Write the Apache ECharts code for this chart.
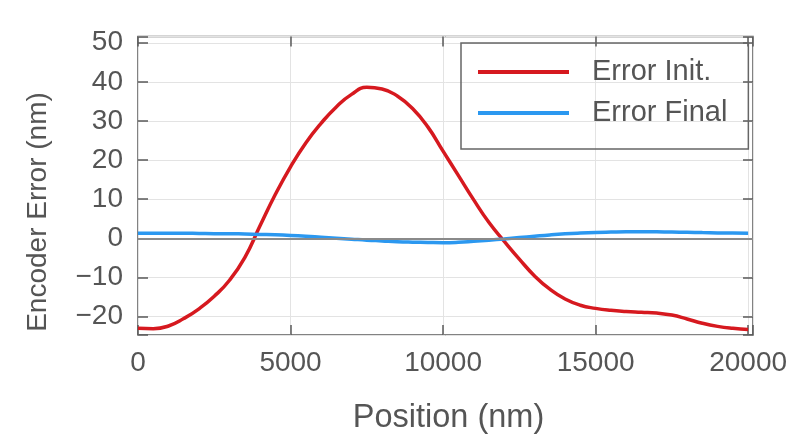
<!DOCTYPE html>
<html>
<head>
<meta charset="utf-8">
<script src="https://cdn.jsdelivr.net/npm/echarts@6/dist/echarts.min.js"></script>
<style>
html,body{margin:0;padding:0;background:#fff;}
#c{width:800px;height:445px;}
</style>
</head>
<body>
<div id="c"></div>
<script>
const positions = [0,500,1000,1500,2000,2500,3000,3500,4000,4500,5000,5500,6000,6500,7000,7500,8000,8500,9000,9500,10000,10500,11000,11500,12000,12500,13000,13500,14000,14500,15000,15500,16000,16500,17000,17500,18000,18500,19000,19500,20000];
const errorInit = [-23.0,-23.1,-22.4,-20.5,-18.0,-14.8,-10.7,-4.9,3.2,11.2,18.3,24.4,29.4,33.6,36.8,38.6,38.2,36.4,33.2,28.5,22.3,16.1,9.9,4.1,-0.7,-5.3,-9.6,-13.0,-15.5,-17.1,-17.9,-18.4,-18.7,-18.9,-19.1,-19.6,-20.6,-21.7,-22.5,-23.0,-23.3];
const errorFinal = [1.3,1.3,1.3,1.3,1.25,1.2,1.2,1.1,1.0,0.9,0.75,0.55,0.3,0.05,-0.2,-0.45,-0.65,-0.85,-0.97,-1.05,-1.1,-1.0,-0.75,-0.47,-0.15,0.2,0.55,0.88,1.15,1.35,1.5,1.6,1.68,1.7,1.67,1.62,1.55,1.47,1.4,1.35,1.3];
const seriesNames = ['Error Init.', 'Error Final'];
const xTitle = 'Position (nm)';
const yTitle = 'Encoder Error (nm)';

const chart = echarts.init(document.getElementById('c'), null, {renderer: 'canvas'});
const axisCol = '#5a5a5a';
const font = 'Liberation Sans, Arial, Helvetica, sans-serif';
const xMin = 0, xMax = 20160, yMin = -24.7, yMax = 51.6;

const xAxisBase = {
  type: 'value', min: xMin, max: xMax, interval: 5000,
  axisLine: {show: false, onZero: false},
  axisTick: {show: true, inside: true, length: 10, lineStyle: {color: axisCol, width: 1.5}}
};
const yAxisBase = {
  type: 'value', min: yMin, max: yMax, minInterval: 10, maxInterval: 10, splitNumber: 8,
  axisLine: {show: false, onZero: false},
  axisTick: {show: true, inside: true, length: 10, lineStyle: {color: axisCol, width: 1.5}}
};

chart.setOption({
  backgroundColor: '#ffffff',
  animation: false,
  grid: {left: 138, right: 47, top: 36.5, bottom: 110, show: true, borderColor: axisCol, borderWidth: 1.5, backgroundColor: 'transparent'},
  legend: {
    left: 461, top: 43, orient: 'vertical',
    icon: 'rect', itemWidth: 91, itemHeight: 4, itemGap: 11,
    padding: [14, 21, 21, 17],
    borderColor: '#666', borderWidth: 1.5,
    textStyle: {fontFamily: font, fontSize: 29, color: '#555', lineHeight: 30, padding: [0, 0, 0, 18]},
    data: seriesNames
  },
  xAxis: [
    Object.assign({}, xAxisBase, {
      position: 'bottom',
      name: xTitle, nameLocation: 'middle', nameGap: 67,
      nameTextStyle: {fontFamily: font, fontSize: 32.5, color: '#555', padding: [0, 0, 0, 6]},
      axisLabel: {show: true, margin: 14, fontFamily: font, fontSize: 28, color: '#555',
        formatter: v => (v % 5000 === 0 ? String(v) : '')},
      splitLine: {show: true, lineStyle: {color: '#e3e3e3', width: 1}}
    }),
    Object.assign({}, xAxisBase, {position: 'top', axisLabel: {show: false}, splitLine: {show: false}})
  ],
  yAxis: [
    Object.assign({}, yAxisBase, {
      position: 'left',
      axisLabel: {show: true, margin: 15, fontFamily: font, fontSize: 28, color: '#555',
        formatter: v => (Math.abs(v % 10) < 1e-9 ? (v < 0 ? '\u2212' + Math.abs(v) : String(v)) : '')},
      splitLine: {show: true, lineStyle: {color: '#e3e3e3', width: 1}}
    }),
    Object.assign({}, yAxisBase, {position: 'right', axisLabel: {show: false}, splitLine: {show: false}})
  ],
  graphic: [{
    type: 'text', rotation: Math.PI / 2,
    x: 38, y: 212,
    style: {text: yTitle, fontFamily: font, fontSize: 28, fill: '#555', textAlign: 'center', textVerticalAlign: 'middle'}
  }],
  series: [
    {
      name: seriesNames[0], type: 'line', smooth: 0.5, symbol: 'none',
      data: positions.map((x, i) => [x, errorInit[i]]),
      lineStyle: {color: '#d6191f', width: 3.5}, itemStyle: {color: '#d6191f'},
      z: 3,
      markLine: {silent: true, symbol: 'none', label: {show: false},
        lineStyle: {color: '#8a8a8a', width: 2, type: 'solid'}, data: [{yAxis: 0}]}
    },
    {
      name: seriesNames[1], type: 'line', smooth: 0.5, symbol: 'none',
      data: positions.map((x, i) => [x, errorFinal[i]]),
      lineStyle: {color: '#2b98f0', width: 3.5}, itemStyle: {color: '#2b98f0'},
      z: 4
    }
  ]
});
</script>
</body>
</html>
